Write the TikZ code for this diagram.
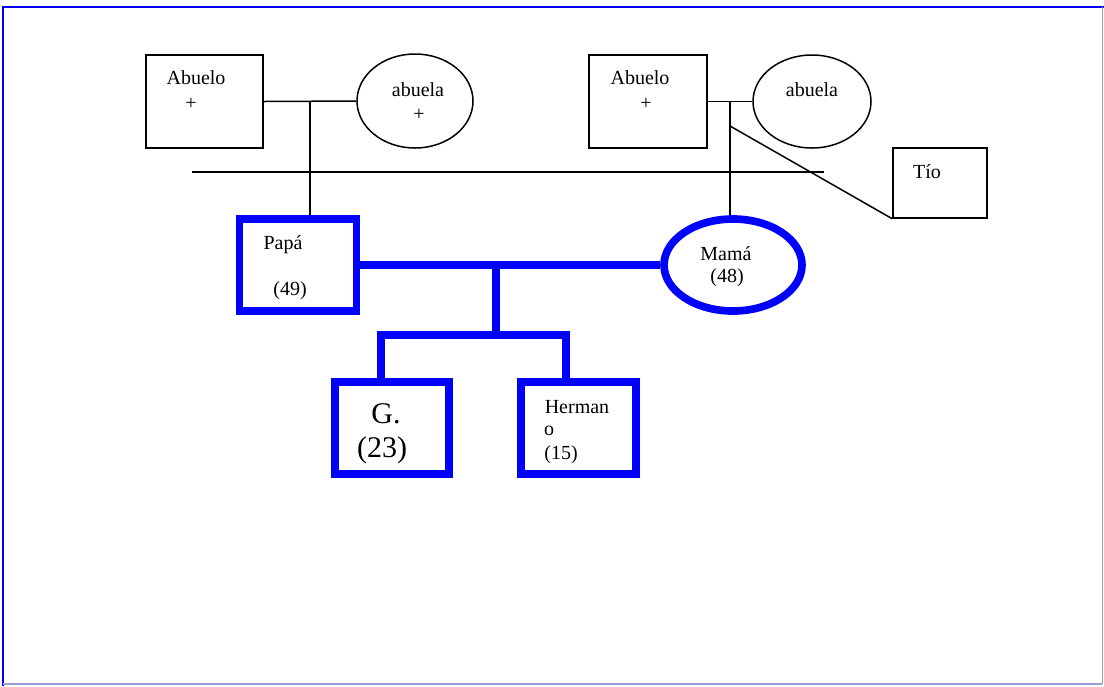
\documentclass[tikz,border=0pt]{standalone}
\usepackage{fontspec}
\setmainfont{Liberation Serif}
\usetikzlibrary{shapes.geometric}
\definecolor{pedblue}{rgb}{0,0,1}
\definecolor{framegray}{rgb}{0.62,0.62,0.62}
\definecolor{framelilac}{rgb}{0.62,0.6,0.86}

\begin{document}
\begin{tikzpicture}[x=0.6pt,y=-0.6pt,
        kin/.style={line width=0.9pt},
        kinbold/.style={pedblue,line width=4.6pt},
        male/.style={draw,rectangle,inner sep=0pt},
        female/.style={draw,ellipse,inner sep=0pt},
        txt/.style={font=\fontsize{12}{14}\selectfont,inner sep=0pt},
        bigtxt/.style={font=\fontsize{18}{21}\selectfont,inner sep=0pt}]
        \useasboundingbox (0,0) rectangle (1104,686);
        % page frame
        \draw[pedblue,line width=1.2pt] (3,686) -- (3,7) -- (1104,7);
        \draw[framegray,line width=0.6pt] (1102,7) -- (1102,684);
        \draw[framelilac,line width=0.9pt] (3,684) -- (1102,684);

        % grandparents
        \node[male,kin,minimum width=117*0.6pt,minimum height=93*0.6pt] (abuelo1) at (204.5,101.5) {};
        \node[female,kin,minimum width=116*0.6pt,minimum height=94*0.6pt] (abuela1) at (415,101) {};
        \node[male,kin,minimum width=118*0.6pt,minimum height=93*0.6pt] (abuelo2) at (648,101.5) {};
        \node[female,kin,minimum width=118*0.6pt,minimum height=93*0.6pt] (abuela2) at (812,101.5) {};
        \node[male,kin,minimum width=94*0.6pt,minimum height=70*0.6pt] (tio) at (940,183) {};
        \node[txt] (abuelo1a) at (196,78) {Abuelo};
        \node[txt] (abuelo1b) at (191,104) {+};
        \node[txt] (abuela1a) at (418,90) {abuela};
        \node[txt] (abuela1b) at (419,115) {+};
        \node[txt] (abuelo2a) at (640,78) {Abuelo};
        \node[txt] (abuelo2b) at (646,104) {+};
        \node[txt] (abuela2a) at (812,90) {abuela};
        \node[txt] (tioa) at (927,172) {Tío};

        % parents and children
        \node[male,kinbold,minimum width=117*0.6pt,minimum height=92*0.6pt] (papa) at (298,265) {};
        \node[female,kinbold,minimum width=138*0.6pt,minimum height=92*0.6pt] (mama) at (733,265) {};
        \node[male,kinbold,minimum width=114*0.6pt,minimum height=92*0.6pt] (gbox) at (392,428) {};
        \node[male,kinbold,minimum width=115*0.6pt,minimum height=92*0.6pt] (hbox) at (578.5,428) {};
        \node[txt] (papaa) at (283,245) {Papá};
        \node[txt] (papab) at (290,291) {(49)};
        \node[txt] (mamaa) at (726,254) {Mamá};
        \node[txt] (mamab) at (727,278) {(48)};
        \node[bigtxt] (ga) at (386,414) {G.};
        \node[bigtxt] (gb) at (382,450) {(23)};
        \node[txt] (ha) at (577,407) {Herman};
        \node[txt] (hb) at (549,431) {o};
        \node[txt] (hc) at (561,455) {(15)};

        % thin connectors
        \coordinate (pm) at (310,101);
        \coordinate (mm) at (730,101);
        \coordinate (td) at (730,126);
        \coordinate (gl) at (192,172);
        \coordinate (gr) at (824,172);
        \draw[kin] (abuelo1.east) -- (abuela1.west);
        \draw[kin] (abuelo2.east) -- (abuela2.west);
        \draw[kin] (gl) -- (gr);
        \draw[kin] (pm) -- (pm |- papa.north);
        \draw[kin] (mm) -- (mm |- mama.north);
        \draw[kin] (td) -- (tio.south west);

        % thick connectors
        \coordinate (pc) at (496,265);
        \coordinate (sl) at (381,335);
        \coordinate (sr) at (566,335);
        \draw[kinbold] (papa.east) -- (mama.west);
        \draw[kinbold] (pc) -- (pc |- sl);
        \draw[kinbold] (sl |- gbox.north) -- (sl) -- (sr) -- (sr |- hbox.north);
    \end{tikzpicture}
\end{document}
